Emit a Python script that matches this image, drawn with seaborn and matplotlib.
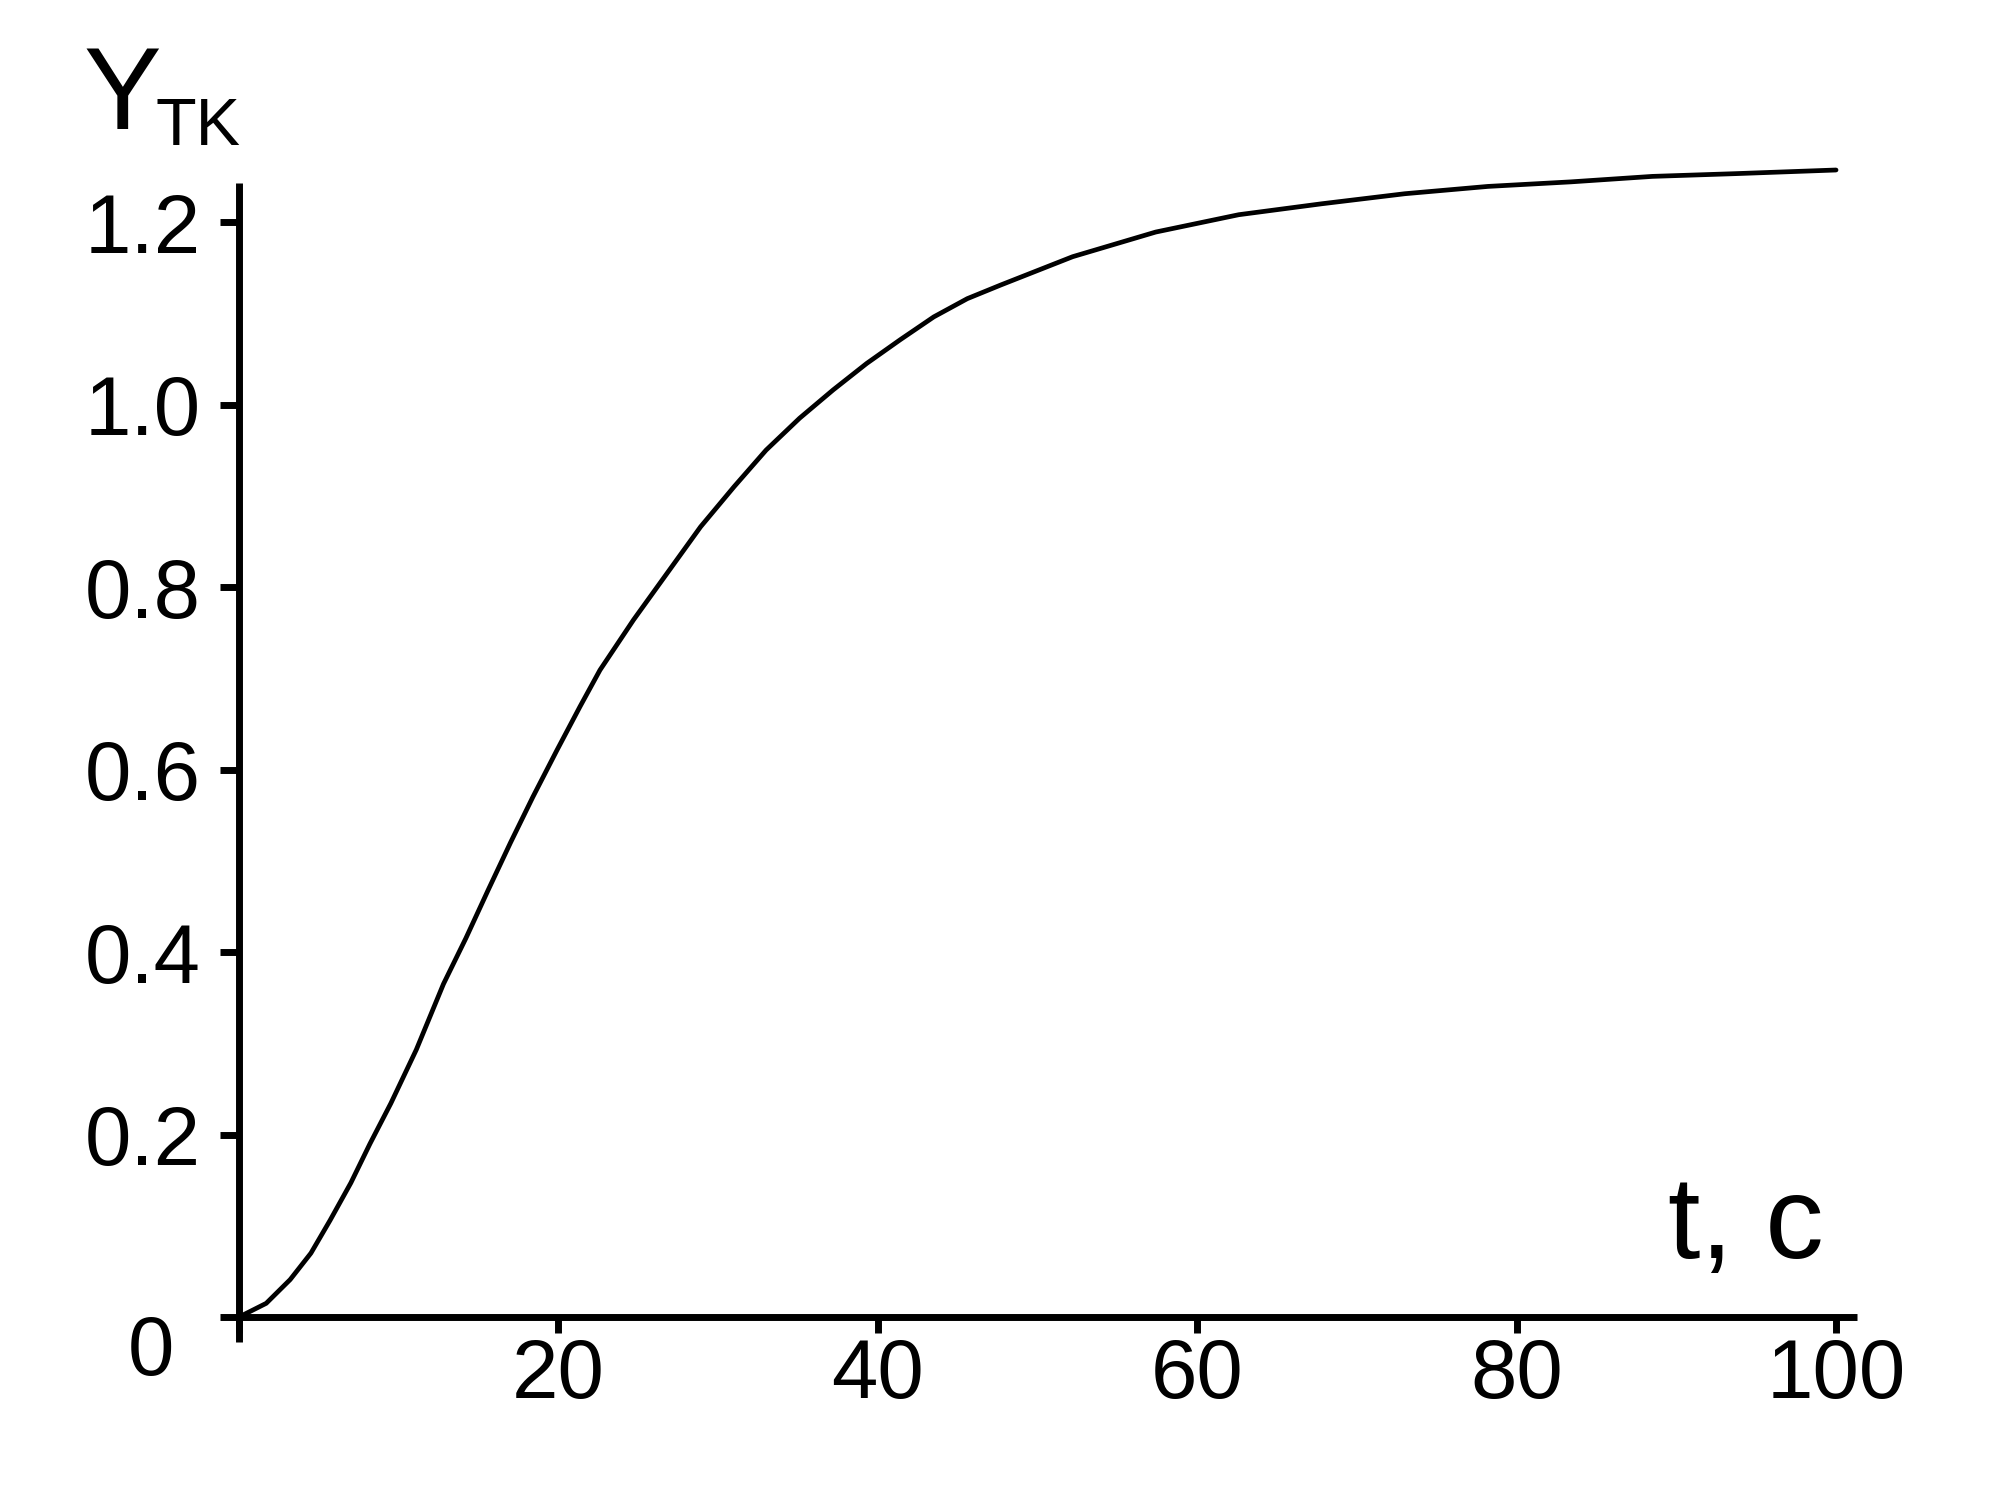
import matplotlib.pyplot as plt
import pandas as pd
import seaborn as sns

# transient response
t_values = [0, 1.7, 3.2, 4.5, 5.7, 7.0, 8.2, 9.5, 11.1, 12.8, 14.2, 15.6, 17.0,
            18.4, 19.9, 21.35, 22.6, 24.7, 26.8, 28.9, 31.0, 33.0, 35.1, 37.2,
            39.3, 41.4, 43.5, 45.6, 47.7, 52.2, 57.4, 62.6, 67.8, 73.0, 78.2,
            83.4, 88.5, 93.7, 100]
y_values = [0, 0.015, 0.041, 0.070, 0.106, 0.147, 0.190, 0.234, 0.293, 0.365,
            0.415, 0.468, 0.520, 0.570, 0.621, 0.669, 0.709, 0.764, 0.815,
            0.866, 0.910, 0.950, 0.985, 1.016, 1.045, 1.071, 1.096, 1.116,
            1.131, 1.162, 1.189, 1.208, 1.220, 1.231, 1.239, 1.244, 1.250,
            1.253, 1.257]
x_ticks = [0, 20, 40, 60, 80, 100]
x_tick_labels = ["", "20", "40", "60", "80", "100"]
y_ticks = [0, 0.2, 0.4, 0.6, 0.8, 1.0, 1.2]
y_tick_labels = ["", "0.2", "0.4", "0.6", "0.8", "1.0", "1.2"]

data = pd.DataFrame({"t": t_values, "y": y_values})

sns.set_style("white")
plt.rcParams["font.family"] = ["Liberation Sans", "DejaVu Sans"]
plt.rcParams["text.color"] = "black"
plt.rcParams["xtick.color"] = "black"
plt.rcParams["ytick.color"] = "black"

fig = plt.figure(figsize=(20.01, 15.09), dpi=100)
ax = fig.add_axes([0, 0, 1, 1])
ax.patch.set_alpha(0)

sns.lineplot(data=data, x="t", y="y", color="black", linewidth=3.4, ax=ax,
             clip_on=False)

ax.set_xlim(-14.97, 110.33)
ax.set_ylim(-0.2104, 1.4433)

for side in ["top", "right"]:
    ax.spines[side].set_visible(False)
ax.spines["left"].set_position(("data", 0))
ax.spines["bottom"].set_position(("data", 0))
ax.spines["left"].set_bounds(-0.027, 1.243)
ax.spines["bottom"].set_bounds(0, 101.3)
for side in ["left", "bottom"]:
    ax.spines[side].set_linewidth(5)
    ax.spines[side].set_color("black")
    ax.spines[side].set_capstyle("butt")

ax.set_xticks(x_ticks)
ax.set_xticklabels(x_tick_labels)
ax.set_yticks(y_ticks)
ax.set_yticklabels(y_tick_labels)
ax.tick_params(axis="x", direction="out", length=11.5, width=5, pad=3,
               labelsize=60, labelcolor="black", bottom=True)
ax.tick_params(axis="y", direction="out", length=13.7, width=5, pad=14,
               labelsize=60, labelcolor="black", left=True)
ax.set_xlabel("")
ax.set_ylabel("")

ax.text(-5.5, -0.039, "0", fontsize=60, ha="center", va="center")
ax.text(-9.77, 1.302, "Y", fontsize=84, ha="left", va="baseline")
ax.text(-5.26, 1.284, "TK", fontsize=48, ha="left", va="baseline")
ax.text(99.2, 0.065, "t, c", fontsize=84, ha="right", va="baseline")

fig.savefig("out.png", dpi=100, facecolor="white")
